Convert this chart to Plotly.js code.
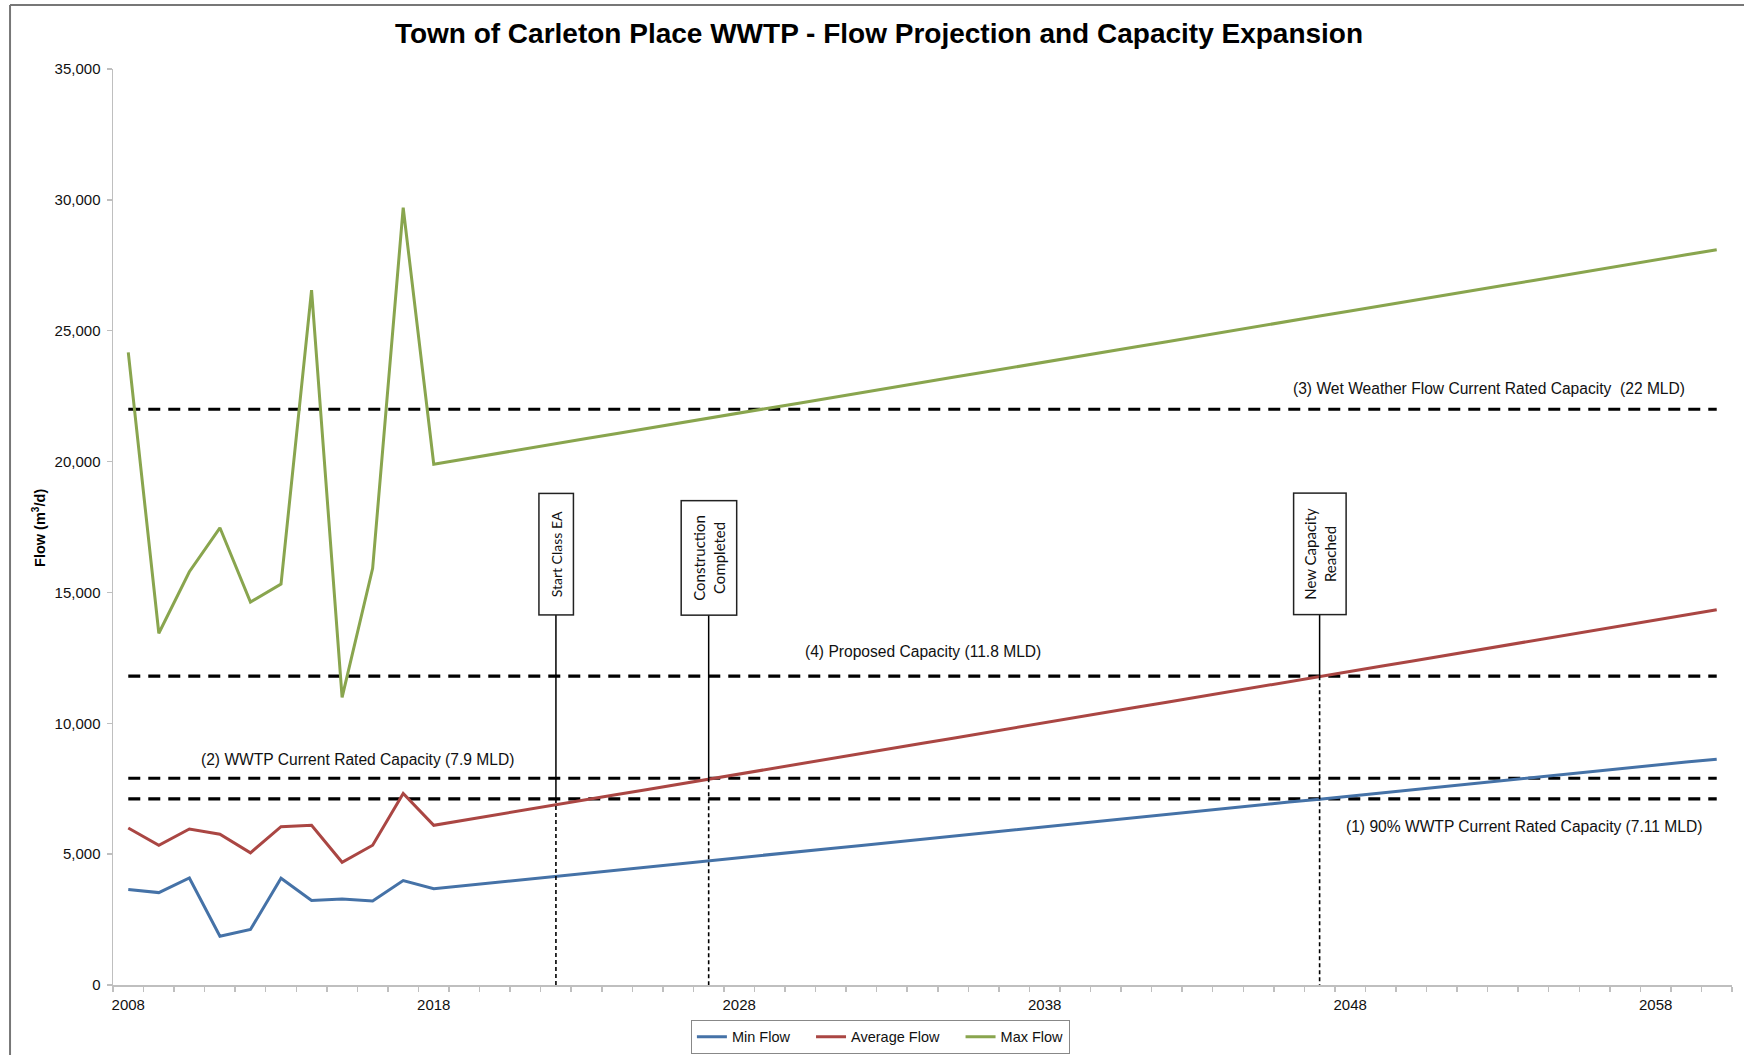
<!DOCTYPE html>
<html>
<head>
<meta charset="utf-8">
<script src="https://cdn.plot.ly/plotly-3.0.1.min.js"></script>
<style>html,body{margin:0;padding:0;background:#fff;}#chart{width:1744px;height:1055px;}</style>
</head>
<body>
<div id="chart"></div>
<script>
// ---- Data ----
const years = [];
for (let y = 2008; y <= 2060; y++) years.push(y);

const minFlow = [3650, 3530, 4090, 1860, 2120, 4080, 3230, 3290, 3210, 3990,
  3680, 3800, 3920, 4040, 4150, 4270, 4390, 4510, 4630, 4740,
  4860, 4980, 5100, 5220, 5330, 5450, 5570, 5690, 5810, 5920,
  6040, 6160, 6280, 6400, 6510, 6630, 6750, 6870, 6990, 7100,
  7220, 7340, 7460, 7580, 7690, 7810, 7930, 8050, 8170, 8280,
  8400, 8520, 8630];

const avgFlow = [6000, 5340, 5960, 5760, 5050, 6050, 6100, 4690, 5340, 7320,
  6100, 6300, 6490, 6690, 6880, 7080, 7280, 7470, 7670, 7860,
  8060, 8260, 8450, 8650, 8840, 9040, 9240, 9430, 9630, 9820,
  10020, 10220, 10410, 10610, 10800, 11000, 11200, 11390, 11590, 11780,
  11980, 12180, 12370, 12570, 12760, 12960, 13160, 13350, 13550, 13740,
  13940, 14140, 14340];

const maxFlow = [24170, 13440, 15790, 17470, 14630, 15320, 26550, 10990, 15920, 29700,
  19900, 20100, 20290, 20490, 20680, 20880, 21070, 21270, 21460, 21660,
  21850, 22050, 22240, 22440, 22630, 22830, 23020, 23220, 23410, 23610,
  23800, 24000, 24190, 24390, 24580, 24780, 24970, 25170, 25360, 25560,
  25750, 25950, 26140, 26340, 26530, 26730, 26920, 27120, 27310, 27510,
  27700, 27900, 28090];

const capacityValues = [7110, 7900, 11800, 22000];
const capacityLabels = [
  "(1) 90% WWTP Current Rated Capacity (7.11 MLD)",
  "(2) WWTP Current Rated Capacity (7.9 MLD)",
  "(4) Proposed Capacity (11.8 MLD)",
  "(3) Wet Weather Flow Current Rated Capacity  (22 MLD)"
];

const milestoneYears = [2022, 2027, 2047];
const milestoneLevels = [7110, 7900, 11800];
const milestoneLabels = ["Start Class EA", "Construction<br>Completed", "New Capacity<br>Reached"];

const seriesNames = ["Min Flow", "Average Flow", "Max Flow"];
const tickYears = [2008, 2018, 2028, 2038, 2048, 2058];
const yTicks = [0, 5000, 10000, 15000, 20000, 25000, 30000, 35000];

// ---- Traces ----
const colors = ["#4572A7", "#AA4643", "#89A54E"];
const series = [minFlow, avgFlow, maxFlow];
const traces = [];

capacityValues.forEach(function (c) {
  traces.push({
    x: [years[0], years[years.length - 1]], y: [c, c],
    type: "scatter", mode: "lines", showlegend: false, hoverinfo: "skip",
    line: {color: "#000", width: 3.2, dash: "12px,8px"}
  });
});

const pad = "\u00a0\u00a0\u00a0\u00a0";
series.forEach(function (s, i) {
  traces.push({
    x: years, y: s, name: seriesNames[i] + (i < series.length - 1 ? pad : ""), type: "scatter", mode: "lines",
    line: {color: colors[i], width: 3}
  });
});

// ---- Shapes (milestone lines + outer frame) ----
const boxBottom = 14140;
const shapes = [];
milestoneYears.forEach(function (yr, i) {
  shapes.push({type: "line", xref: "x", yref: "y", x0: yr, x1: yr, y0: boxBottom, y1: milestoneLevels[i],
    line: {color: "#000", width: 1.5}});
  shapes.push({type: "line", xref: "x", yref: "y", x0: yr, x1: yr, y0: milestoneLevels[i], y1: 0,
    line: {color: "#000", width: 1.6, dash: "4px,3px"}});
});
shapes.push({type: "line", xref: "paper", yref: "paper", x0: -0.0636, x1: 1.02, y0: 1.0698, y1: 1.0698,
  line: {color: "#777", width: 2}});
shapes.push({type: "line", xref: "paper", yref: "paper", x0: -0.0636, x1: -0.0636, y0: 1.0698, y1: -0.1,
  line: {color: "#777", width: 2}});

// ---- Annotations ----
const lblFont = {family: "Liberation Sans, Arial, sans-serif", size: 15.6, color: "#111"};
const capLabelPos = [[2053.7, 6050], [2015.5, 8600], [2034.0, 12730], [2052.55, 22810]];
const annotations = capacityLabels.map(function (t, i) {
  return {text: t, x: capLabelPos[i][0], y: capLabelPos[i][1], xref: "x", yref: "y",
    showarrow: false, font: lblFont, xanchor: "center", yanchor: "middle"};
});

const boxSizes = [[120, 33], [113, 54], [120, 51]];
const boxFont = [14, 15, 15];
const boxY = [0.4708, 0.4659, 0.4708];
milestoneYears.forEach(function (yr, i) {
  annotations.push({
    text: milestoneLabels[i], x: yr, y: boxY[i], xref: "x", yref: "paper",
    showarrow: false, textangle: -90, width: boxSizes[i][0], height: boxSizes[i][1],
    bgcolor: "#fff", bordercolor: "#222", borderwidth: 1.5, borderpad: 0,
    font: {family: "Lato, Open Sans, sans-serif", size: boxFont[i], color: "#111"},
    xanchor: "center", yanchor: "middle", align: "center"
  });
});

annotations.push({
  text: "<b>Flow (m<sup>3</sup>/d)</b>", xref: "paper", yref: "paper", x: -0.0457, y: 0.499,
  showarrow: false, textangle: -90, xanchor: "center", yanchor: "middle",
  font: {family: "Liberation Sans, Arial, sans-serif", size: 14.5, color: "#000"}
});

const layout = {
  width: 1744, height: 1055,
  margin: {l: 113, r: 12, t: 69, b: 69.5, autoexpand: false},
  paper_bgcolor: "#fff", plot_bgcolor: "#fff",
  title: {text: "<b>Town of Carleton Place WWTP - Flow Projection and Capacity Expansion</b>",
    x: 0.504, xanchor: "center", y: 0.9687, yanchor: "middle", yref: "container",
    font: {family: "Liberation Sans, Arial, sans-serif", size: 28, color: "#000"}},
  xaxis: {
    range: [2007.5, 2060.5], tickvals: tickYears, ticktext: tickYears.map(String),
    ticks: "", showgrid: false, zeroline: false, showline: true, linecolor: "#bfbfbf", linewidth: 1.5,
    ticklabelstandoff: 5,
    tickfont: {family: "Liberation Sans, Arial, sans-serif", size: 15, color: "#111"},
    minor: {ticks: "outside", tick0: 2007.5, dtick: 1, ticklen: 5, tickcolor: "#bfbfbf", tickwidth: 1.5, showgrid: false}
  },
  yaxis: {
    range: [0, 35000], tickvals: yTicks, ticktext: yTicks.map(function (v) { return v.toLocaleString("en-US"); }),
    ticks: "outside", ticklen: 5, tickcolor: "#bfbfbf", tickwidth: 1.5, ticklabelstandoff: 3,
    showgrid: false, zeroline: false, showline: true, linecolor: "#bfbfbf", linewidth: 1.5,
    tickfont: {family: "Liberation Sans, Arial, sans-serif", size: 15, color: "#111"}
  },
  showlegend: true,
  legend: {orientation: "h", x: 0.474, xanchor: "center", y: -0.038, yanchor: "top",
    bordercolor: "#888", borderwidth: 1, bgcolor: "#fff", itemwidth: 30,
    font: {family: "Liberation Sans, Arial, sans-serif", size: 14.5, color: "#111"}},
  shapes: shapes,
  annotations: annotations
};

Plotly.newPlot("chart", traces, layout, {displayModeBar: false, staticPlot: true});
</script>
</body>
</html>
